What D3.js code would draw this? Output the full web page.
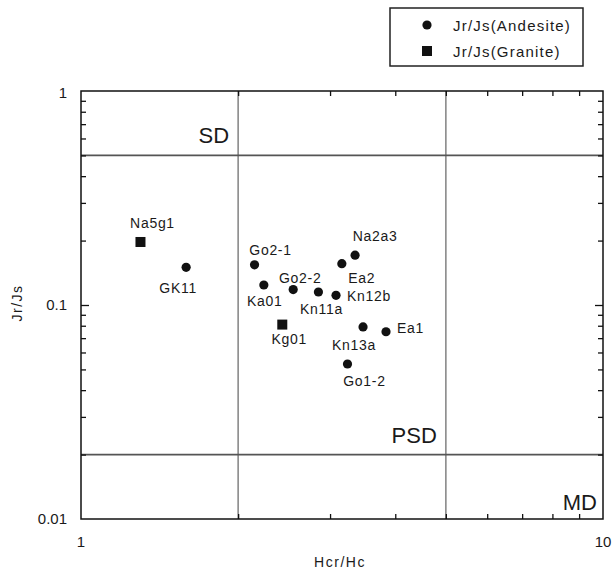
<!DOCTYPE html>
<html>
<head>
<meta charset="utf-8">
<script src="https://cdn.jsdelivr.net/npm/d3@7"></script>
<style>
  html, body { margin: 0; padding: 0; background: #fff; }
  svg { display: block; }
  text { font-family: "Liberation Sans", Arial, sans-serif; fill: #1a1a1a; }
</style>
</head>
<body>
<svg id="chart" width="614" height="574"></svg>
<script>
// Sample names, rock type and hysteresis ratios
const samples  = ["Na5g1", "GK11", "Go2-1", "Ka01", "Go2-2", "Kn11a", "Kn12b", "Ea2", "Na2a3", "Kg01", "Kn13a", "Ea1", "Go1-2"];
const rockType = ["Granite", "Andesite", "Andesite", "Andesite", "Andesite", "Andesite", "Andesite", "Andesite", "Andesite", "Granite", "Andesite", "Andesite", "Andesite"];
const hcrHc    = [1.30, 1.59, 2.15, 2.24, 2.55, 2.85, 3.08, 3.16, 3.35, 2.43, 3.47, 3.84, 3.24];
const jrJs     = [0.197, 0.150, 0.154, 0.124, 0.118, 0.115, 0.111, 0.156, 0.171, 0.081, 0.079, 0.075, 0.053];

// Axis tick labels
const xTickLabels = [1, 10];
const yTickLabels = [0.01, 0.1, 1];

// Domain boundaries (Day plot) and their names
const hcrBounds = [2, 5];
const jrBounds  = [0.02, 0.5];
const domainNames = ["SD", "PSD", "MD"];

// Legend entries
const legendKeys   = ["Andesite", "Granite"];
const legendLabels = ["Jr/Js(Andesite)", "Jr/Js(Granite)"];

// Label placement around each marker: [dx, dy, anchor]
const labelPlacement = {
  "Na5g1": [12, -14, "middle"],
  "GK11":  [-8, 26, "middle"],
  "Go2-1": [16, -10, "middle"],
  "Ka01":  [1, 21, "middle"],
  "Go2-2": [7, -7, "middle"],
  "Kn11a": [3, 22, "middle"],
  "Kn12b": [11, 6, "start"],
  "Ea2":   [20, 19, "middle"],
  "Na2a3": [20, -14, "middle"],
  "Kg01":  [7, 19, "middle"],
  "Kn13a": [-9, 23, "middle"],
  "Ea1":   [11, 1, "start"],
  "Go1-2": [17, 22, "middle"]
};

const svg = d3.select("#chart");
const plotLeft = 81, plotRight = 603, plotTop = 91, plotBottom = 519;

const x = d3.scaleLog().domain([1, 10]).range([plotLeft, plotRight]);
const y = d3.scaleLog().domain([0.01, 1]).range([plotBottom, plotTop]);

const xMinor = d3.range(2, 10);
const yMinor = [].concat(d3.range(2, 10).map(d => d * 0.01), d3.range(2, 10).map(d => d * 0.1));

// Boundary lines
svg.append("g").selectAll("line").data(hcrBounds).join("line")
  .attr("x1", d => x(d)).attr("x2", d => x(d))
  .attr("y1", plotTop).attr("y2", plotBottom)
  .attr("stroke", "#8a8a8a").attr("stroke-width", 1.6);
svg.append("g").selectAll("line").data(jrBounds).join("line")
  .attr("x1", plotLeft).attr("x2", plotRight)
  .attr("y1", d => y(d)).attr("y2", d => y(d))
  .attr("stroke", "#555").attr("stroke-width", 1.6);

// Inward ticks on all four sides
svg.append("g").attr("transform", `translate(0,${plotBottom})`)
  .call(d3.axisBottom(x).tickValues(xMinor).tickSize(-5).tickFormat(""));
svg.append("g").attr("transform", `translate(0,${plotTop})`)
  .call(d3.axisTop(x).tickValues(xMinor).tickSize(-5).tickFormat(""));
svg.append("g").attr("transform", `translate(${plotLeft},0)`)
  .call(d3.axisLeft(y).tickValues(yMinor).tickSize(-5).tickFormat(""));
svg.append("g").attr("transform", `translate(${plotLeft},0)`)
  .call(d3.axisLeft(y).tickValues([0.1]).tickSize(-8).tickFormat(""));
svg.append("g").attr("transform", `translate(${plotRight},0)`)
  .call(d3.axisRight(y).tickValues(yMinor).tickSize(-5).tickFormat(""));
svg.append("g").attr("transform", `translate(${plotRight},0)`)
  .call(d3.axisRight(y).tickValues([0.1]).tickSize(-8).tickFormat(""));
svg.selectAll(".domain").remove();
svg.selectAll(".tick line").attr("stroke", "#111").attr("stroke-width", 1.3);

// Plot frame
svg.append("rect")
  .attr("x", plotLeft).attr("y", plotTop)
  .attr("width", plotRight - plotLeft).attr("height", plotBottom - plotTop)
  .attr("fill", "none").attr("stroke", "#111").attr("stroke-width", 1.5);

// Tick labels
const fmt = d => String(d);
svg.append("g").selectAll("text").data(xTickLabels).join("text")
  .attr("x", d => x(d)).attr("y", 547)
  .attr("text-anchor", "middle").attr("font-size", 15)
  .text(fmt);
svg.append("g").selectAll("text").data(yTickLabels).join("text")
  .attr("x", plotLeft - 14).attr("y", d => Math.max(y(d), 93))
  .attr("dy", "0.35em")
  .attr("text-anchor", "end").attr("font-size", 15)
  .text(fmt);

// Axis titles
svg.append("text")
  .attr("x", 340).attr("y", 567)
  .attr("text-anchor", "middle").attr("font-size", 14)
  .attr("letter-spacing", 1.5)
  .text("Hcr/Hc");
svg.append("text")
  .attr("transform", "translate(22,303) rotate(-90)")
  .attr("text-anchor", "middle").attr("font-size", 14)
  .attr("letter-spacing", 1.5)
  .text("Jr/Js");

// Domain names
const domainPos = [
  [x(hcrBounds[0]) - 9, y(jrBounds[1]) - 12],
  [x(hcrBounds[1]) - 9, y(jrBounds[0]) - 12],
  [plotRight - 6, plotBottom - 9]
];
svg.append("g").selectAll("text").data(domainNames).join("text")
  .attr("x", (d, i) => domainPos[i][0]).attr("y", (d, i) => domainPos[i][1])
  .attr("text-anchor", "end").attr("font-size", 22)
  .text(d => d);

// Markers
function drawMarker(sel, type, cx, cy) {
  if (type === "Granite") {
    sel.append("rect")
      .attr("x", cx - 5).attr("y", cy - 5)
      .attr("width", 10).attr("height", 10)
      .attr("fill", "#111");
  } else {
    sel.append("circle")
      .attr("cx", cx).attr("cy", cy).attr("r", 4.6)
      .attr("fill", "#111");
  }
}

const pts = samples.map((s, i) => ({ name: s, type: rockType[i], hx: hcrHc[i], jr: jrJs[i] }));
const gPts = svg.append("g");
pts.forEach(p => drawMarker(gPts, p.type, x(p.hx), y(p.jr)));

svg.append("g").selectAll("text").data(pts).join("text")
  .attr("x", p => x(p.hx) + labelPlacement[p.name][0])
  .attr("y", p => y(p.jr) + labelPlacement[p.name][1])
  .attr("text-anchor", p => labelPlacement[p.name][2])
  .attr("font-size", 14).attr("letter-spacing", 0.7)
  .text(p => p.name);

// Legend
const lg = svg.append("g");
lg.append("rect")
  .attr("x", 390).attr("y", 8).attr("width", 193).attr("height", 58)
  .attr("fill", "#fff").attr("stroke", "#222").attr("stroke-width", 1.5);
legendKeys.forEach((k, i) => {
  const cy = 25 + i * 26;
  drawMarker(lg, k, 427, cy);
  lg.append("text")
    .attr("x", 453).attr("y", cy + 5.5)
    .attr("font-size", 15).attr("letter-spacing", 1.2)
    .text(legendLabels[i]);
});
</script>
</body>
</html>
